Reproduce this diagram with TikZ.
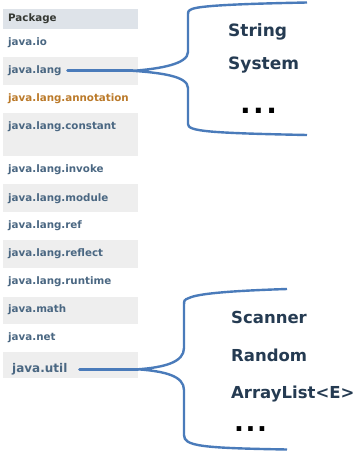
\documentclass[tikz,border=0pt]{standalone}
\usepackage{fontspec}
\setmainfont{DejaVu Sans}
\definecolor{headbg}{HTML}{DEE3E9}
\definecolor{rowgray}{HTML}{EEEEEE}
\definecolor{pkgblue}{HTML}{4A6782}
\definecolor{headtext}{HTML}{353833}
\definecolor{pkgorange}{HTML}{BB7A2A}
\definecolor{bracecol}{HTML}{4A7BBA}
\definecolor{clsnavy}{HTML}{253B52}

\begin{document}
\begin{tikzpicture}[
    x=1pt, y=-1pt,
    pkg/.style={anchor=base west, inner sep=0pt, font=\fontsize{10.3}{12}\selectfont\bfseries, text=pkgblue},
    cls/.style={anchor=base west, inner sep=0pt, font=\fontsize{17}{20}\selectfont\bfseries, text=clsnavy},
    clsb/.style={cls, font=\fontsize{16.5}{20}\selectfont\bfseries},
    more/.style={anchor=base west, inner sep=0pt, font=\fontsize{28}{30}\selectfont\bfseries, text=black},
    brace/.style={line width=2.4pt, bracecol, line join=round},
    link/.style={line width=2.8pt, bracecol, line cap=round}
  ]
  \fill[white] (0,0) rectangle (357,452);
  \useasboundingbox (0,0) rectangle (357,452);

  % Table rows
  \fill[headbg] (3,9) rectangle (138,29);
  \foreach \top/\bot in {57/85, 113/156, 184/212, 240/268, 297/324, 352/378} {
    \fill[rowgray] (3,\top) rectangle (138,\bot);
  }

  % Package names
  \node[pkg, text=headtext] (head) at (8,22) {Package};
  \node[pkg] (io) at (8,45.5) {java.io};
  \node[pkg] (lang) at (8,73.5) {java.lang};
  \node[pkg, text=pkgorange] (annot) at (8,101.5) {java.lang.annotation};
  \node[pkg] (const) at (8,129.5) {java.lang.constant};
  \node[pkg] (invoke) at (8,172.5) {java.lang.invoke};
  \node[pkg] (module) at (8,201) {java.lang.module};
  \node[pkg] (ref) at (8,228.5) {java.lang.ref};
  \node[pkg] (reflect) at (8,256.5) {java.lang.reflect};
  \node[pkg] (runtime) at (8,284.5) {java.lang.runtime};
  \node[pkg] (math) at (8,312.5) {java.math};
  \node[pkg] (net) at (8,340.5) {java.net};
  \node[pkg, font=\fontsize{12}{14}\selectfont\bfseries] (util) at (12,372.5) {java.util};

  % Brace for java.lang
  \coordinate (langtip) at (133,70.8);
  \draw[brace] (307,2.5) .. controls (230,4) and (200,6) .. (192,9)
    .. controls (188,11) .. (188,16) -- (188,52)
    .. controls (188,64) and (160,68.8) .. (langtip)
    .. controls (160,72.8) and (188,76) .. (188,88) -- (188,124)
    .. controls (188,131) and (205,133) .. (307,135);
  \draw[link, shorten <=6pt] (lang.east) -- (lang.east -| langtip);

  % Classes of java.lang
  \node[cls] (string) at (228,37) {String};
  \node[cls] (system) at (228,70) {System};
  \node[more] (langmore) at (240,113) {.\hspace{2.4pt}.\hspace{2.4pt}.};

  % Brace for java.util
  \coordinate (utiltip) at (138,369.3);
  \draw[brace] (287,289) .. controls (225,291) and (197,294) .. (189,298)
    .. controls (184,300) .. (184,306) -- (184,348)
    .. controls (184,362) and (165,367.3) .. (utiltip)
    .. controls (165,371.3) and (184,376) .. (184,390) -- (184,435)
    .. controls (184,446) and (200,448) .. (287,449.5);
  \draw[link, shorten <=12pt] (util.east) -- (util.east -| utiltip);

  % Classes of java.util
  \node[clsb] (scanner) at (231,323) {Scanner};
  \node[clsb] (random) at (231,361) {Random};
  \node[clsb] (alist) at (231,398) {ArrayList<E>};
  \node[more, font=\fontsize{26}{28}\selectfont\bfseries] (utilmore) at (234,431) {.\hspace{1.6pt}.\hspace{1.6pt}.};
\end{tikzpicture}
\end{document}
